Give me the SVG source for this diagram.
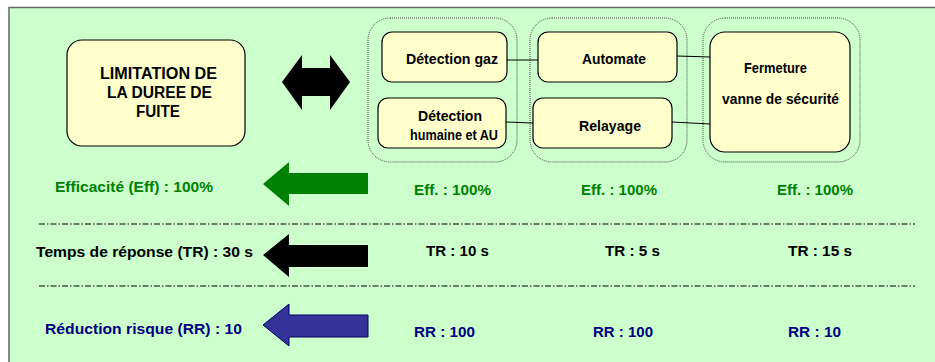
<svg xmlns="http://www.w3.org/2000/svg" width="935" height="362" viewBox="0 0 935 362">
<style>
  .t{font-family:"Liberation Sans",Arial,sans-serif;font-weight:bold;lengthAdjust:spacing}
  .bx{font-size:15px}
  .row{font-size:15.5px}
  .box{fill:#FFFFCC;stroke:#000;stroke-width:1.2}
  .grp{fill:none;stroke:#444;stroke-width:1;stroke-dasharray:1 1}
  .sep{stroke:#000;stroke-width:1;stroke-dasharray:6 2 1.5 2;fill:none}
  .con{stroke:#000;stroke-width:1;fill:none}
  .g{fill:#008000}
  .b{fill:#000080}
  .k{fill:#000}
</style>
<rect x="0" y="0" width="935" height="362" fill="#fff"/>
<rect x="9" y="7.5" width="940" height="370" fill="#CCFFCC" stroke="#666" stroke-width="1.5"/>

<g id="groups">
  <rect class="grp" x="368" y="18" width="149" height="144" rx="22"/>
  <rect class="grp" x="530" y="18" width="157" height="144" rx="22"/>
  <rect class="grp" x="703" y="18" width="157" height="144" rx="22"/>
</g>

<g id="connectors">
  <line class="con" x1="507" y1="60" x2="538" y2="60"/>
  <line class="con" x1="677" y1="56" x2="710" y2="57"/>
  <line class="con" x1="506" y1="122" x2="533" y2="123"/>
  <line class="con" x1="672" y1="122" x2="710" y2="124"/>
</g>

<g id="limitation">
  <rect class="box" x="67" y="40" width="178" height="106" rx="15"/>
  <text class="t" font-size="16" x="100" y="79" textLength="117" lengthAdjust="spacingAndGlyphs">LIMITATION DE</text>
  <text class="t" font-size="16" x="107" y="98" textLength="105" lengthAdjust="spacingAndGlyphs">LA DUREE DE</text>
  <text class="t" font-size="16" x="136" y="117" textLength="44" lengthAdjust="spacingAndGlyphs">FUITE</text>
</g>

<g id="double-arrow">
  <polygon class="k" points="282,82 302,55 302,68 330,68 330,55 350,82 330,110 330,96 302,96 302,110"/>
</g>

<g id="detection-gaz">
  <rect class="box" x="382" y="32" width="125" height="50" rx="10"/>
  <text class="t bx" x="406" y="64" textLength="92" lengthAdjust="spacingAndGlyphs">Détection gaz</text>
</g>
<g id="detection-humaine">
  <rect class="box" x="378" y="98" width="128" height="50" rx="10"/>
  <text class="t bx" x="418" y="121" textLength="64" lengthAdjust="spacingAndGlyphs">Détection</text>
  <text class="t bx" x="410" y="140" textLength="88" lengthAdjust="spacingAndGlyphs">humaine et AU</text>
</g>
<g id="automate">
  <rect class="box" x="538" y="32" width="139" height="50" rx="10"/>
  <text class="t bx" x="582" y="64" textLength="64" lengthAdjust="spacingAndGlyphs">Automate</text>
</g>
<g id="relayage">
  <rect class="box" x="533" y="98" width="139" height="50" rx="10"/>
  <text class="t bx" x="579" y="131" textLength="62" lengthAdjust="spacingAndGlyphs">Relayage</text>
</g>
<g id="fermeture">
  <rect class="box" x="710" y="32" width="140" height="120" rx="15"/>
  <text class="t bx" x="744" y="73" textLength="63" lengthAdjust="spacingAndGlyphs">Fermeture</text>
  <text class="t bx" x="722" y="104" textLength="117" lengthAdjust="spacingAndGlyphs">vanne de sécurité</text>
</g>

<g id="separators">
  <line class="sep" x1="39" y1="224" x2="915" y2="224"/>
  <line class="sep" x1="39" y1="286" x2="915" y2="286"/>
</g>

<g id="row-eff">
  <text class="t row g" x="55" y="192" textLength="158" lengthAdjust="spacingAndGlyphs">Efficacité (Eff) : 100%</text>
  <polygon class="g" points="263,184 289,162 289,173 368,173 368,194 289,194 289,206"/>
  <text class="t row g" x="414" y="195" textLength="77" lengthAdjust="spacingAndGlyphs">Eff. : 100%</text>
  <text class="t row g" x="581" y="195" textLength="76" lengthAdjust="spacingAndGlyphs">Eff. : 100%</text>
  <text class="t row g" x="777" y="195" textLength="76" lengthAdjust="spacingAndGlyphs">Eff. : 100%</text>
</g>

<g id="row-tr">
  <text class="t row k" x="36" y="257" textLength="217" lengthAdjust="spacingAndGlyphs">Temps de réponse (TR) : 30 s</text>
  <polygon class="k" points="263,255 289,234 289,245 368,245 368,267 289,267 289,277"/>
  <text class="t row k" x="426" y="256" textLength="63" lengthAdjust="spacingAndGlyphs">TR : 10 s</text>
  <text class="t row k" x="605" y="256" textLength="55" lengthAdjust="spacingAndGlyphs">TR : 5 s</text>
  <text class="t row k" x="788" y="256" textLength="64" lengthAdjust="spacingAndGlyphs">TR : 15 s</text>
</g>

<g id="row-rr">
  <text class="t row b" x="45" y="334" textLength="197" lengthAdjust="spacingAndGlyphs">Réduction risque (RR) : 10</text>
  <polygon points="263,325 289,304 289,315 368,315 368,337 289,337 289,346" fill="#333399" stroke="#000066" stroke-width="1"/>
  <text class="t row b" x="414" y="337" textLength="61" lengthAdjust="spacingAndGlyphs">RR : 100</text>
  <text class="t row b" x="593" y="337" textLength="60" lengthAdjust="spacingAndGlyphs">RR : 100</text>
  <text class="t row b" x="788" y="337" textLength="53" lengthAdjust="spacingAndGlyphs">RR : 10</text>
</g>
</svg>
